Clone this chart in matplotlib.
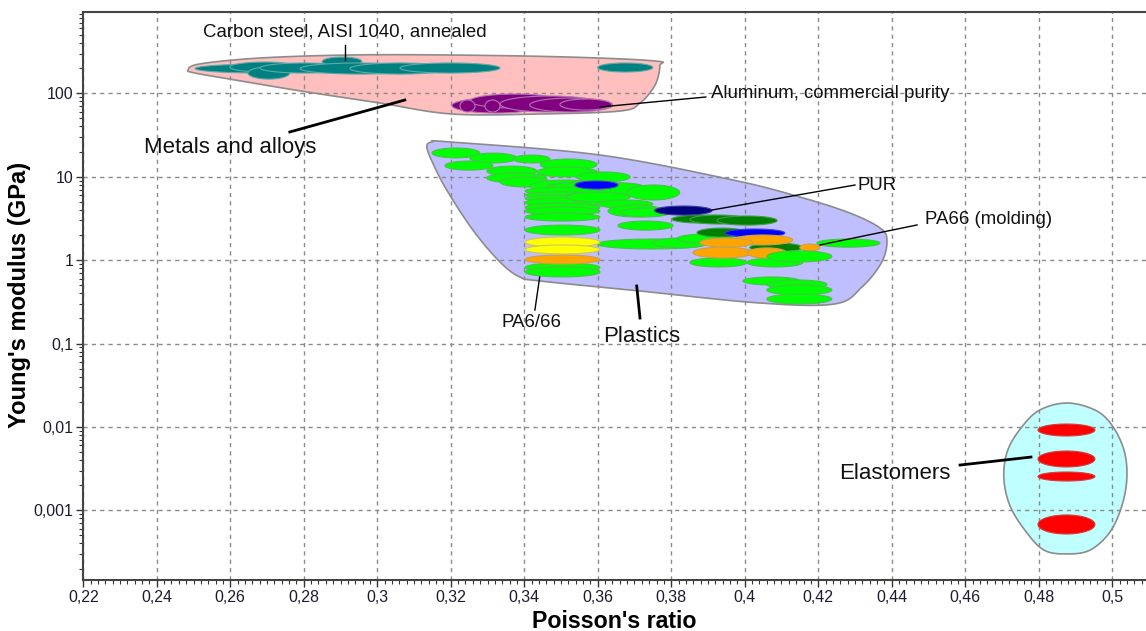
import numpy as np
import matplotlib.pyplot as plt
from matplotlib.ticker import FixedLocator, MultipleLocator, FuncFormatter, NullFormatter

plt.rcParams['font.family'] = ['Liberation Sans', 'DejaVu Sans']

# axis ticks
x_ticks = [0.22, 0.24, 0.26, 0.28, 0.30, 0.32, 0.34, 0.36, 0.38, 0.40, 0.42, 0.44, 0.46, 0.48, 0.50]
y_ticks = [0.001, 0.01, 0.1, 1, 10, 100]

# material bubbles: (nu_lo, nu_hi, E_lo, E_hi), E in GPa
steel = [(0.2504, 0.2871, 175, 224), (0.2599, 0.2789, 180, 237), (0.2648, 0.2762, 148, 207),
         (0.2681, 0.2926, 175, 231), (0.2850, 0.2958, 213, 272), (0.2790, 0.3116, 170, 231),
         (0.2926, 0.3198, 170, 231), (0.3062, 0.3334, 175, 231), (0.3600, 0.3750, 180, 231)]
aluminum = [(0.3203, 0.3443, 58.0, 87.8), (0.3252, 0.3497, 66.6, 98), (0.3334, 0.3606, 59.7, 92.8),
            (0.3415, 0.3641, 59.7, 87.8), (0.3497, 0.3638, 63, 85.4), (0.3225, 0.3266, 59.7, 83.1),
            (0.3293, 0.3334, 59.7, 83.1)]
plastics_green = [(0.3149, 0.3279, 16.8, 22.1), (0.3252, 0.3380, 14.6, 19.2), (0.3369, 0.3470, 14.6, 18.2),
                  (0.3184, 0.3315, 12.0, 15.4), (0.3443, 0.3598, 12.0, 16.3), (0.3298, 0.3434, 10.2, 13.4),
                  (0.3434, 0.3598, 9.92, 13.1), (0.3298, 0.3461, 8.41, 11.1), (0.3334, 0.3470, 7.52, 9.92),
                  (0.3543, 0.3688, 8.64, 11.4), (0.3416, 0.3606, 6.56, 9.13), (0.3461, 0.3715, 6.56, 8.64),
                  (0.3606, 0.3734, 6.03, 8.41), (0.3402, 0.3606, 6.03, 7.52), (0.3402, 0.3606, 5.55, 6.56),
                  (0.3402, 0.3606, 4.97, 6.03), (0.3402, 0.3606, 4.33, 5.55), (0.3402, 0.3606, 3.77, 4.84),
                  (0.3402, 0.3606, 3.47, 4.33), (0.3402, 0.3606, 2.94, 3.67), (0.3516, 0.3688, 4.97, 6.56),
                  (0.3679, 0.3823, 5.26, 7.95), (0.3598, 0.3750, 4.21, 5.26), (0.3628, 0.3778, 3.29, 4.58),
                  (0.3661, 0.3797, 3.29, 4.21), (0.3655, 0.3805, 2.29, 2.94), (0.3402, 0.3606, 2.00, 2.63),
                  (0.3598, 0.3897, 1.36, 1.79), (0.3750, 0.3897, 1.40, 1.84), (0.3402, 0.3606, 0.721, 0.924),
                  (0.3402, 0.3606, 0.628, 0.827), (0.3816, 0.3968, 1.60, 2.05), (0.4196, 0.4368, 1.43, 1.79),
                  (0.3851, 0.4006, 0.827, 1.06), (0.4006, 0.4158, 0.827, 1.06), (0.3995, 0.4150, 0.503, 0.628),
                  (0.4060, 0.4224, 0.450, 0.578), (0.4060, 0.4237, 0.382, 0.503), (0.4060, 0.4237, 0.298, 0.392)]
plastics_dkgreen = [(0.3802, 0.3968, 2.78, 3.47), (0.3851, 0.4006, 2.71, 3.47), (0.3924, 0.4088, 2.63, 3.38),
                    (0.3870, 0.4006, 1.89, 2.42), (0.4014, 0.4158, 1.25, 1.60)]
plastics_blue = [(0.3538, 0.3655, 7.12, 8.88), (0.3946, 0.4109, 1.89, 2.36)]
pur = [(0.3755, 0.3911, 3.47, 4.45)]
pa_orange = [(0.3402, 0.3606, 0.899, 1.15), (0.3968, 0.4131, 1.52, 2.00), (0.3878, 0.4022, 1.43, 1.84),
             (0.4150, 0.4204, 1.29, 1.56), (0.3859, 0.4022, 1.06, 1.43), (0.4006, 0.4115, 1.06, 1.40)]
pa_yellow = [(0.3402, 0.3606, 1.43, 1.89), (0.3402, 0.3606, 1.185, 1.52)]
plastics_top = [(0.4060, 0.4237, 0.950, 1.29)]
elastomers = [(0.4798, 0.4953, 0.00778, 0.01083), (0.4798, 0.4953, 0.00331, 0.00514),
              (0.4798, 0.4953, 0.002246, 0.00288), (0.4798, 0.4953, 0.000520, 0.000879)]

# family envelopes (outline)
metals_env_nu = [0.2485, 0.2517, 0.2681, 0.2926, 0.3198, 0.3524, 0.3756, 0.3769, 0.3756, 0.3715,
                 0.3660, 0.3443, 0.3203, 0.3007, 0.2790, 0.2599, 0.2504]
metals_env_E = [190, 225, 265, 288, 288, 272, 244, 213, 126, 76.5, 61.3, 56.5, 56.5, 76.5, 107, 148, 175]
plastics_env_nu = [0.3135, 0.3149, 0.3198, 0.3606, 0.3968, 0.4150, 0.4286, 0.4368, 0.4387, 0.4373,
                   0.4319, 0.4245, 0.4041, 0.3715, 0.3443, 0.3388, 0.3334, 0.3260, 0.3189, 0.3151]
plastics_env_E = [22.7, 26.1, 26.1, 18.2, 9.13, 5.71, 3.67, 2.43, 1.74, 0.949,
                  0.476, 0.298, 0.306, 0.426, 0.562, 0.627, 0.949, 2.30, 6.93, 14.6]
elast_env_nu = [0.4877, 0.4953, 0.4999, 0.5032, 0.5040, 0.5027, 0.4994, 0.4940, 0.4877, 0.4814,
                0.4762, 0.4721, 0.4705, 0.4716, 0.4754, 0.4803]
elast_env_E = [0.01935, 0.01595, 0.01054, 0.005287, 0.002509, 0.001158, 0.000550, 0.000334, 0.000300,
               0.000334, 0.000581, 0.001158, 0.002509, 0.005287, 0.00998, 0.01595]

# labels: text, text position, leader line start, leader line end
family_labels = [("Metals and alloys", (0.2599, 22.1), (0.2762, 34.4), (0.3075, 83.1)),
                 ("Plastics", (0.3720, 0.123), (0.3715, 0.202), (0.3706, 0.489)),
                 ("Elastomers", (0.4409, 0.0028), (0.4586, 0.00349), (0.4779, 0.00435))]
material_labels = [("Carbon steel, AISI 1040, annealed", (0.2912, 543), (0.2912, 380), (0.2912, 251), 'center'),
                   ("Aluminum, commercial purity", (0.3908, 100), (0.3894, 90.3), (0.3606, 68.5), 'left'),
                   ("PUR", (0.4308, 7.95), (0.4300, 7.95), (0.3911, 3.99), 'left'),
                   ("PA66 (molding)", (0.4490, 3.11), (0.4469, 2.64), (0.4205, 1.52), 'left'),
                   ("PA6/66", (0.3421, 0.181), (0.3429, 0.252), (0.3442, 0.627), 'center')]


def ellipse_pts(nu_lo, nu_hi, E_lo, E_hi, n=90):
    t = np.linspace(0, 2 * np.pi, n)
    ly0, ly1 = np.log10(E_lo), np.log10(E_hi)
    x = (nu_lo + nu_hi) / 2 + (nu_hi - nu_lo) / 2 * np.cos(t)
    y = (ly0 + ly1) / 2 + (ly1 - ly0) / 2 * np.sin(t)
    return x, 10 ** y


def smooth_outline(nu, E, n=24):
    # closed Catmull-Rom curve in (nu, log E)
    P = np.column_stack([nu, np.log10(E)])
    m = len(P)
    t = np.linspace(0, 1, n, endpoint=False)[:, None]
    segs = []
    for i in range(m):
        p0, p1, p2, p3 = P[i - 1], P[i], P[(i + 1) % m], P[(i + 2) % m]
        segs.append(0.5 * (2 * p1 + (p2 - p0) * t + (2 * p0 - 5 * p1 + 4 * p2 - p3) * t ** 2
                           + (-p0 + 3 * p1 - 3 * p2 + p3) * t ** 3))
    S = np.vstack(segs)
    return S[:, 0], 10 ** S[:, 1]


fig = plt.figure(figsize=(11.46, 6.31), dpi=100)
ax = fig.add_axes([83.3 / 1146, 1 - 580 / 631, 1 - 83.3 / 1146, 568 / 631])
ax.set_yscale('log')
ax.set_xlim(0.22, 0.5092)
ax.set_ylim(1.46e-4, 944)

# envelopes
for nu, E, col in [(metals_env_nu, metals_env_E, '#ffbfbf'),
                   (plastics_env_nu, plastics_env_E, '#bfbfff'),
                   (elast_env_nu, elast_env_E, '#bfffff')]:
    sx, sy = smooth_outline(nu, E)
    ax.fill(sx, sy, facecolor=col, edgecolor='#8c8c8c', lw=1.2, zorder=1)

# bubbles
groups = [(steel, '#008080', '#5fa9a9'),
          (aluminum, '#800080', '#b274b2'),
          (plastics_green, '#00ff00', '#4cc04c'),
          (plastics_dkgreen, '#008000', '#3f9f3f'),
          (pur, '#000080', '#3a3a9a'),
          (plastics_blue, '#0000ff', '#4040d0'),
          (pa_orange, '#ffa500', '#c8a050'),
          (pa_yellow, '#ffff00', '#c8c860'),
          (plastics_top, '#00ff00', '#4cc04c'),
          (elastomers, '#ff0000', '#d04040')]
for items, fc, ec in groups:
    for r in items:
        ex, ey = ellipse_pts(*r)
        ax.fill(ex, ey, facecolor=fc, edgecolor=ec, lw=0.8, zorder=2)

# labels
for txt, tpos, p0, p1 in family_labels:
    ax.plot([p0[0], p1[0]], [p0[1], p1[1]], color='black', lw=2, zorder=3)
    ax.text(tpos[0], tpos[1], txt, fontsize=16, ha='center', va='center', color='#111111', zorder=4)
for txt, tpos, p0, p1, ha in material_labels:
    ax.plot([p0[0], p1[0]], [p0[1], p1[1]], color='black', lw=1, zorder=3)
    ax.text(tpos[0], tpos[1], txt, fontsize=13.4, ha=ha, va='center', color='#111111', zorder=4)

# axes styling
ax.xaxis.set_major_locator(FixedLocator(x_ticks))
ax.xaxis.set_minor_locator(MultipleLocator(0.002))
ax.xaxis.set_major_formatter(FuncFormatter(
    lambda v, p: f'{v:.2f}'.rstrip('0').rstrip('.').replace('.', ',')))
ax.xaxis.set_minor_formatter(NullFormatter())
ax.yaxis.set_major_locator(FixedLocator(y_ticks))
ax.yaxis.set_minor_locator(FixedLocator([d * k for d in [0.0001] + y_ticks for k in range(2, 10)
                                         if 1.46e-4 <= d * k <= 944]))
ax.yaxis.set_major_formatter(FuncFormatter(lambda v, p: f'{v:g}'.replace('.', ',')))
ax.yaxis.set_minor_formatter(NullFormatter())

ax.tick_params(which='both', direction='out', top=False, right=False, color='#333333',
               labelsize=11.5, labelcolor='#1c1c30')
ax.tick_params(which='major', length=5, width=1, pad=2)
ax.tick_params(which='minor', length=3, width=0.8)
ax.grid(which='major', color='#8a8a8a', linestyle=(0, (3, 3)), lw=1)
ax.spines['right'].set_visible(False)
for s in ['left', 'bottom', 'top']:
    ax.spines[s].set_color('#444444')
    ax.spines[s].set_linewidth(1.5)

ax.set_xlabel("Poisson's ratio", fontsize=16.7, fontweight='bold')
ax.set_ylabel("Young's modulus (GPa)", fontsize=17, fontweight='bold')
ax.xaxis.set_label_coords(0.5, -0.052)
ax.yaxis.set_label_coords(-0.049, 0.502)

fig.savefig('out.png', dpi=100)
